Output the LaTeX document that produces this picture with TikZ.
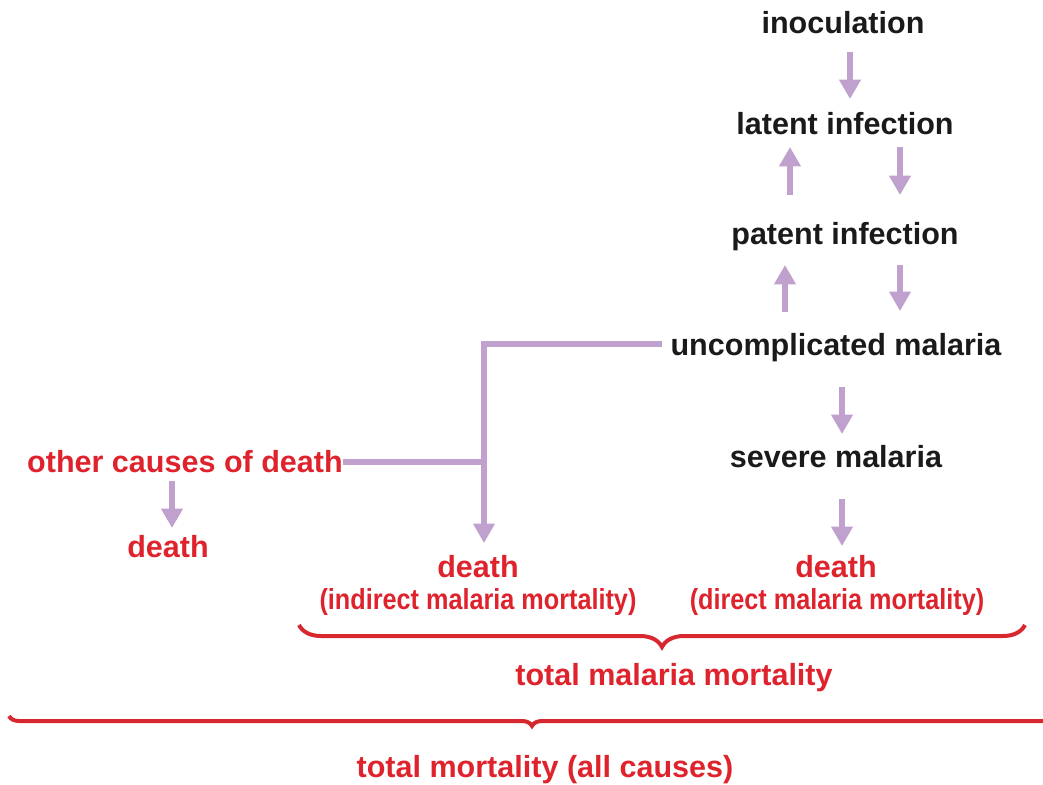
\documentclass[tikz,border=0pt]{standalone}
\usepackage{fontspec}
\setmainfont{Liberation Sans}
\newfontfamily\narrowfont[FakeStretch=0.87]{Liberation Sans}
\usetikzlibrary{arrows.meta,calc,decorations.pathreplacing}
\definecolor{arrowpurple}{RGB}{192,160,204}
\definecolor{txtred}{RGB}{222,35,44}
\definecolor{bracered}{RGB}{214,40,46}
\definecolor{txtblack}{RGB}{26,26,26}
\tikzset{
  lbl/.style={anchor=base, inner sep=0pt, font=\bfseries\fontsize{22.9pt}{26pt}\selectfont},
  blk/.style={lbl, text=txtblack},
  red/.style={lbl, text=txtred},
  note/.style={anchor=base, inner sep=0pt, text=txtred, font=\narrowfont\bfseries\fontsize{21.75pt}{24pt}\selectfont},
  arr/.style={draw=arrowpurple, line width=4.3pt, -{Triangle[width=15.5pt,length=14.5pt]}},
  link/.style={draw=arrowpurple, line width=4pt},
  bracepath/.style={draw=bracered, line width=3pt, decorate, decoration={brace, mirror, amplitude=#1, aspect=0.5}}
}
\begin{document}
\begin{tikzpicture}[x=0.75pt, y=-0.75pt]
\useasboundingbox (0,0) rectangle (1043,785);
% nodes
\node[blk] (inoc)   at (843,33)  {inoculation};
\node[blk] (latent) at (845,134) {latent infection};
\node[blk] (patent) at (845,244) {patent infection};
\node[blk] (uncomp) at (836,355) {uncomplicated malaria};
\node[blk] (severe) at (836,467) {severe malaria};
\node[red] (deathD) at (836,577) {death};
\node[note] (noteD) at (837,609) {(direct malaria mortality)};
\node[red] (deathI) at (478,577) {death};
\node[note] (noteI) at (478,609) {(indirect malaria mortality)};
\node[red] (other)  at (185,472) {other causes of death};
\node[red] (deathL) at (168,557) {death};
\node[red] (tmm)    at (674,685) {total malaria mortality};
\node[red] (tm)     at (545,777) {total mortality (all causes)};
% arrows
\draw[arr] ($(inoc.base)+(7,19)$) -- ($(latent.base)+(5,-35)$);
\draw[arr] ($(latent.base)+(55,13)$) -- ($(patent.base)+(55,-49)$);
\draw[arr] ($(patent.base)+(-55,-49)$) -- ($(latent.base)+(-55,13)$);
\draw[arr] ($(patent.base)+(55,21)$) -- ($(uncomp.base)+(64,-44)$);
\draw[arr] ($(uncomp.base)+(-51,-43)$) -- ($(patent.base)+(-60,21)$);
\draw[arr] ($(uncomp.base)+(6,32)$) -- ($(severe.base)+(6,-33)$);
\draw[arr] ($(severe.base)+(6,32)$) -- ($(deathD.base)+(6,-31)$);
\draw[arr] ($(other.base)+(-13,9)$) -- ($(deathL.base)+(4,-29)$);
% indirect path
\coordinate (ustart) at ($(uncomp.base)+(-174,-11)$);
\coordinate (jx) at ($(deathI.base)+(6,-34)$);
\draw[arr] (ustart) -| (jx);
\coordinate (oe) at ($(other.base)+(158,-10)$);
\draw[link] (oe) -- (oe -| jx);
% braces
\coordinate (b1l) at (299,625);
\coordinate (b1r) at (1025,625);
\draw[bracepath=16.5pt] (b1l) -- (b1r);
\coordinate (b2l) at (9,716);
\coordinate (b2r) at (1055,716);
\draw[bracepath=7.5pt] (b2l) -- (b2r);
\end{tikzpicture}
\end{document}
